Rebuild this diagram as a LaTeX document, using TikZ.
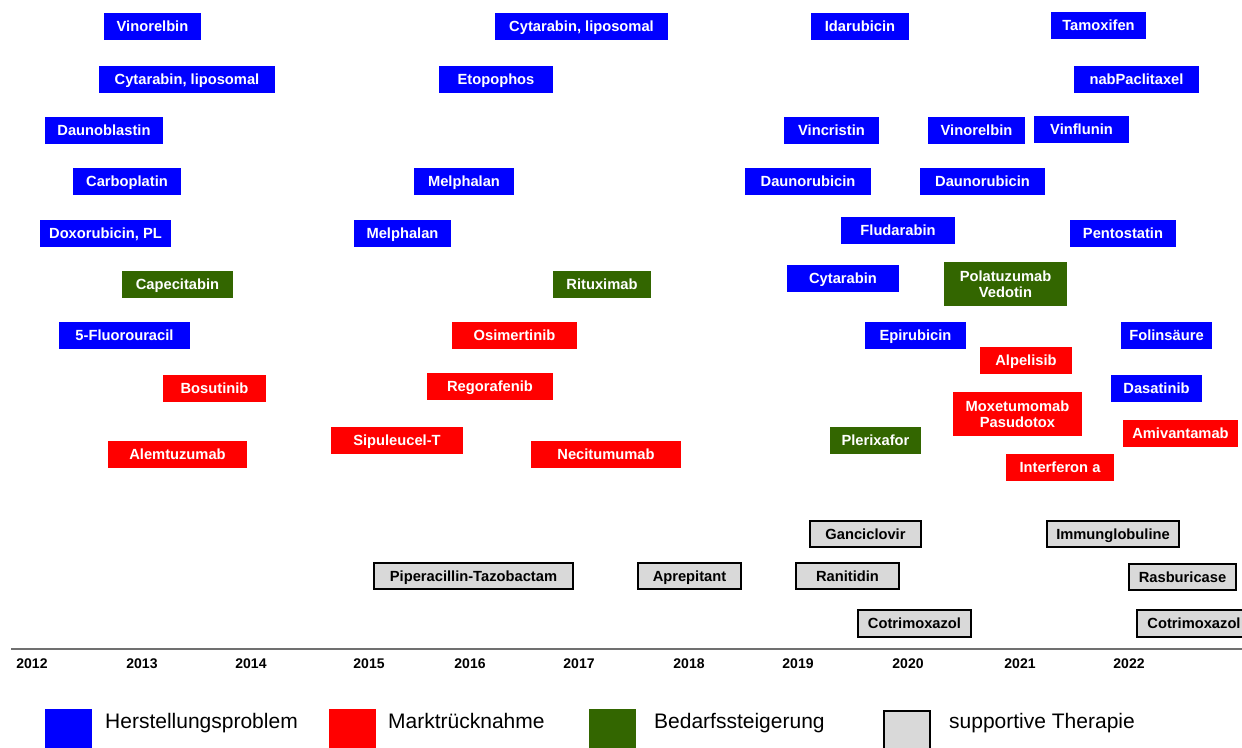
\documentclass[tikz,border=0pt]{standalone}
\usepackage{fontspec}
\setmainfont{Liberation Sans}
\definecolor{hblue}{RGB}{0,0,255}
\definecolor{mred}{RGB}{255,0,0}
\definecolor{bgreen}{RGB}{51,102,0}
\definecolor{sgray}{RGB}{217,217,217}
\definecolor{axgray}{RGB}{112,112,112}
\newcommand\drug[7]{\node[#2, minimum width={#5pt-#3pt}, minimum height={#6pt-#4pt}] (#1) at ({(#3+#5)/2},{(#4+#6)/2}) {#7};}
\begin{document}
\begin{tikzpicture}[x=1pt,y=-1pt,
  box/.style={inner sep=0pt, text height=10.6pt, text depth=0pt, font=\bfseries\fontsize{14.7}{16.5}\selectfont, text=white},
  hb/.style={box, fill=hblue},
  mr/.style={box, fill=mred},
  bg/.style={box, fill=bgreen},
  st/.style={box, fill=sgray, draw=black, line width=1.6pt, text=black},
  two/.style={text height={}, text depth={}, align=center},
  yr/.style={font=\bfseries\fontsize{14}{16}\selectfont, text height=10pt, text depth=0pt, inner sep=0pt},
  lg/.style={inner sep=0pt, minimum width=47pt, minimum height=46pt, anchor=north west},
  lt/.style={font=\fontsize{21}{24}\selectfont, anchor=base west, inner sep=0pt}]
\useasboundingbox (0,0) rectangle (1242,747);
\clip (0,0) rectangle (1242,747);
% Herstellungsproblem
\drug{b1}{hb}{104}{13}{201}{40}{Vinorelbin}
\drug{b2}{hb}{99}{66}{275}{93}{Cytarabin, liposomal}
\drug{b3}{hb}{45}{117}{163}{144}{Daunoblastin}
\drug{b4}{hb}{73}{168}{181}{195}{Carboplatin}
\drug{b5}{hb}{40}{220}{171}{247}{Doxorubicin, PL}
\drug{b6}{hb}{59}{322}{190}{349}{5-Fluorouracil}
\drug{b7}{hb}{495}{13}{668}{40}{Cytarabin, liposomal}
\drug{b8}{hb}{439}{66}{553}{93}{Etopophos}
\drug{b9}{hb}{414}{168}{514}{195}{Melphalan}
\drug{b10}{hb}{354}{220}{451}{247}{Melphalan}
\drug{b11}{hb}{811}{13}{909}{40}{Idarubicin}
\drug{b12}{hb}{1051}{12}{1146}{39}{Tamoxifen}
\drug{b13}{hb}{1074}{66}{1199}{93}{nabPaclitaxel}
\drug{b14}{hb}{784}{117}{879}{144}{Vincristin}
\drug{b15}{hb}{928}{117}{1025}{144}{Vinorelbin}
\drug{b16}{hb}{1034}{116}{1129}{143}{Vinflunin}
\drug{b17}{hb}{745}{168}{871}{195}{Daunorubicin}
\drug{b18}{hb}{920}{168}{1045}{195}{Daunorubicin}
\drug{b19}{hb}{841}{217}{955}{244}{Fludarabin}
\drug{b20}{hb}{1070}{220}{1176}{247}{Pentostatin}
\drug{b21}{hb}{787}{265}{899}{292}{Cytarabin}
\drug{b22}{hb}{865}{322}{966}{349}{Epirubicin}
\drug{b23}{hb}{1121}{322}{1212}{349}{Folinsäure}
\drug{b24}{hb}{1111}{375}{1202}{402}{Dasatinib}
% Bedarfssteigerung
\drug{g1}{bg}{122}{271}{233}{298}{Capecitabin}
\drug{g2}{bg}{553}{271}{651}{298}{Rituximab}
\drug{g3}{bg,two}{944}{262}{1067}{306}{Polatuzumab\\Vedotin}
\drug{g4}{bg}{830}{427}{921}{454}{Plerixafor}
% Marktruecknahme
\drug{r1}{mr}{163}{375}{266}{402}{Bosutinib}
\drug{r2}{mr}{108}{441}{247}{468}{Alemtuzumab}
\drug{r3}{mr}{331}{427}{463}{454}{Sipuleucel-T}
\drug{r4}{mr}{452}{322}{577}{349}{Osimertinib}
\drug{r5}{mr}{427}{373}{553}{400}{Regorafenib}
\drug{r6}{mr}{531}{441}{681}{468}{Necitumumab}
\drug{r7}{mr}{980}{347}{1072}{374}{Alpelisib}
\drug{r8}{mr,two}{953}{392}{1082}{436}{Moxetumomab\\Pasudotox}
\drug{r9}{mr}{1123}{420}{1238}{447}{Amivantamab}
\drug{r10}{mr}{1006}{454}{1114}{481}{Interferon a}
% supportive Therapie
\drug{s1}{st}{374}{563}{573}{589}{Piperacillin-Tazobactam}
\drug{s2}{st}{638}{563}{741}{589}{Aprepitant}
\drug{s3}{st}{810}{521}{921}{547}{Ganciclovir}
\drug{s4}{st}{1047}{521}{1179}{547}{Immunglobuline}
\drug{s5}{st}{796}{563}{899}{589}{Ranitidin}
\drug{s6}{st}{1129}{564}{1236}{590}{Rasburicase}
\drug{s7}{st}{858}{610}{971}{637}{Cotrimoxazol}
\drug{s8}{st}{1137}{610}{1251}{637}{Cotrimoxazol}
% axis
\coordinate (ax0) at (11,649);
\coordinate (ax1) at (1242,649);
\draw[axgray, line width=2pt] (ax0) -- (ax1);
\node[yr] (y2012) at (32,663.5) {2012};
\node[yr] (y2013) at (142,663.5) {2013};
\node[yr] (y2014) at (251,663.5) {2014};
\node[yr] (y2015) at (369,663.5) {2015};
\node[yr] (y2016) at (470,663.5) {2016};
\node[yr] (y2017) at (579,663.5) {2017};
\node[yr] (y2018) at (689,663.5) {2018};
\node[yr] (y2019) at (798,663.5) {2019};
\node[yr] (y2020) at (908,663.5) {2020};
\node[yr] (y2021) at (1020,663.5) {2021};
\node[yr] (y2022) at (1129,663.5) {2022};
% legend
\node[lg, fill=hblue] (lb) at (45,709) {};
\node[lt] (lbt) at (105,728) {Herstellungsproblem};
\node[lg, fill=mred] (lr) at (329,709) {};
\node[lt] (lrt) at (388,728) {Marktrücknahme};
\node[lg, fill=bgreen] (lgr) at (589,709) {};
\node[lt] (lgt) at (654,728) {Bedarfssteigerung};
\node[lg, fill=sgray, draw=black, line width=1.6pt, minimum width=46pt] (ls) at (883,710) {};
\node[lt] (lst) at (949,728) {supportive Therapie};
\end{tikzpicture}
\end{document}
